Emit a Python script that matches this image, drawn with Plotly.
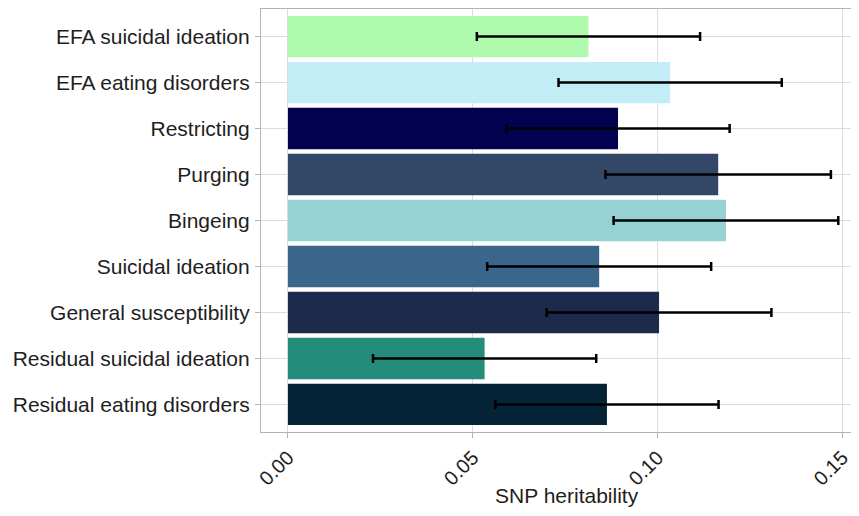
import plotly.graph_objects as go

categories = [
    "EFA suicidal ideation",
    "EFA eating disorders",
    "Restricting",
    "Purging",
    "Bingeing",
    "Suicidal ideation",
    "General susceptibility",
    "Residual suicidal ideation",
    "Residual eating disorders",
]
h2 = [0.0813, 0.1034, 0.0893, 0.1164, 0.1185, 0.0842, 0.1004, 0.0532, 0.0863]
se = [0.0302, 0.0302, 0.0302, 0.0305, 0.0304, 0.0303, 0.0304, 0.0302, 0.0302]
colors = ["#AEFBAE", "#C2EDF7", "#020250", "#334766", "#96D2D4",
          "#3A668B", "#1C2A4B", "#238C7A", "#052438"]
x_ticks = [0.0, 0.05, 0.10, 0.15]
x_tick_labels = ["0.00", "0.05", "0.10", "0.15"]
x_title = "SNP heritability"

fig = go.Figure()
fig.add_trace(go.Bar(
    x=h2, y=categories, orientation="h", width=0.9,
    marker=dict(color=colors, line=dict(width=0)),
    error_x=dict(type="data", array=se, visible=True, color="black",
                 thickness=2.5, width=4.5),
    showlegend=False,
))

font = "Liberation Sans, Arial, Helvetica, sans-serif"
txt = "#1E1E1E"
fig.update_layout(
    width=851, height=508,
    margin=dict(l=253, r=0, t=1, b=84),
    plot_bgcolor="white", paper_bgcolor="white",
    font=dict(family=font, color=txt),
    bargap=0.1,
    xaxis=dict(
        range=[-0.0073, 0.1545],
        tickvals=x_ticks, ticktext=x_tick_labels,
        tickangle=-45, tickfont=dict(size=20, color=txt),
        showgrid=True, gridcolor="#DCDCDC", gridwidth=1,
        zeroline=False, automargin=False,
        ticks="outside", ticklen=5, tickcolor="#B3B3B3", tickwidth=1,
        showline=True, linecolor="#B3B3B3", linewidth=1.2, mirror=True,
    ),
    yaxis=dict(
        categoryorder="array", categoryarray=categories,
        range=[8.6, -0.6], automargin=False,
        tickfont=dict(size=21, color=txt),
        showgrid=True, gridcolor="#DCDCDC", gridwidth=1,
        ticks="outside", ticklen=5, tickcolor="#B3B3B3", tickwidth=1,
        showline=True, linecolor="#B3B3B3", linewidth=1.2, mirror=True,
        ticklabelstandoff=1,
    ),
    annotations=[dict(
        text=x_title, xref="paper", yref="paper", x=0.512, y=-0.151,
        xanchor="center", yanchor="middle", showarrow=False,
        font=dict(size=21, color=txt),
    )],
)

fig.write_html("out.html")
